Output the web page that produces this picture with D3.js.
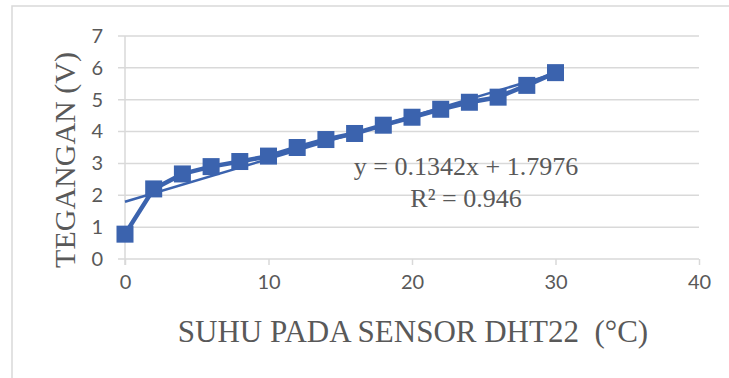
<!DOCTYPE html>
<html>
<head>
<meta charset="utf-8">
<script src="https://cdn.jsdelivr.net/npm/d3@7"></script>
<style>
  html, body { margin: 0; padding: 0; background: #fff; }
  svg { display: block; }
</style>
</head>
<body>
<div id="linechart"></div>
<script>
// data
const suhu = [0, 2, 4, 6, 8, 10, 12, 14, 16, 18, 20, 22, 24, 26, 28, 30];
const tegangan = [0.78, 2.2, 2.67, 2.9, 3.06, 3.23, 3.5, 3.75, 3.94, 4.2, 4.45, 4.7, 4.92, 5.08, 5.45, 5.85];
const xTicks = [0, 10, 20, 30, 40];
const yTicks = [0, 1, 2, 3, 4, 5, 6, 7];
const slope = 0.1342;
const intercept = 1.7976;
const eqLabel = 'y = 0.1342x + 1.7976';
const r2Label = 'R² = 0.946';
const xTitle = 'SUHU PADA SENSOR DHT22  (°C)';
const yTitle = 'TEGANGAN (V)';

const W = 729, H = 378;
const margin = { top: 36, right: 30, bottom: 119, left: 125 };
const width = W - margin.left - margin.right;
const height = H - margin.top - margin.bottom;
const blue = '#3b63ae';
const grid = '#d9d9d9';
const txt = '#595959';

const data = suhu.map((d, i) => ({ x: d, y: tegangan[i] }));

const root = d3.select('#linechart')
  .append('svg')
  .attr('width', W)
  .attr('height', H);

// chart border (only top and left show in the crop)
root.append('path')
  .attr('d', `M12,${H} L12,6 L${W},6`)
  .attr('fill', 'none')
  .attr('stroke', grid)
  .attr('stroke-width', 1.5);

const svg = root.append('g')
  .attr('transform', `translate(${margin.left}, ${margin.top})`);

//scales
const x = d3.scaleLinear().domain([0, 40]).range([0, width]);
const y = d3.scaleLinear().domain([0, 7]).range([height, 0]);

//horizontal grid lines
svg.selectAll('.ygrid')
  .data(yTicks)
  .join('line')
  .attr('class', 'ygrid')
  .attr('x1', -7)
  .attr('x2', width)
  .attr('y1', d => y(d))
  .attr('y2', d => y(d))
  .attr('stroke', grid)
  .attr('stroke-width', 1.5);

//y-axis
svg.append('g')
  .call(d3.axisLeft(y).tickValues(yTicks).tickSize(0).tickPadding(22).tickFormat(d3.format('d')))
  .call(g => g.select('.domain').attr('stroke', grid).attr('stroke-width', 1.5)
    .attr('d', `M0,0V${height + 6}`))
  .selectAll('.tick text')
  .attr('fill', txt)
  .style('font-family', 'Lato, sans-serif')
  .style('font-size', '20px');

//x-axis
svg.append('g')
  .attr('transform', `translate(0, ${height})`)
  .call(d3.axisBottom(x).tickValues(xTicks).tickSize(6).tickPadding(10).tickFormat(d3.format('d')))
  .call(g => g.select('.domain').remove())
  .call(g => g.selectAll('.tick line').attr('stroke', grid).attr('stroke-width', 1.5))
  .selectAll('.tick text')
  .attr('fill', txt)
  .style('font-family', 'Lato, sans-serif')
  .style('font-size', '20px');

//trend line
const trendX = d3.extent(suhu);
svg.append('line')
  .attr('x1', x(trendX[0]))
  .attr('y1', y(slope * trendX[0] + intercept))
  .attr('x2', x(trendX[1]))
  .attr('y2', y(slope * trendX[1] + intercept))
  .attr('stroke', blue)
  .attr('stroke-width', 2.5);

//series line
const line = d3.line()
  .x(d => x(d.x))
  .y(d => y(d.y));

svg.append('path')
  .datum(data)
  .attr('fill', 'none')
  .attr('stroke', blue)
  .attr('stroke-width', 4.5)
  .attr('stroke-linejoin', 'round')
  .attr('d', line);

//square markers
const s = 17;
svg.append('g')
  .selectAll('rect')
  .data(data)
  .join('rect')
  .attr('x', d => x(d.x) - s / 2)
  .attr('y', d => y(d.y) - s / 2)
  .attr('width', s)
  .attr('height', s)
  .attr('fill', blue);

//trend line label
svg.append('text')
  .attr('x', 466 - margin.left)
  .attr('y', 175 - margin.top)
  .attr('text-anchor', 'middle')
  .attr('fill', txt)
  .style('font-family', '"Liberation Serif", serif')
  .style('font-size', '26px')
  .text(eqLabel);

svg.append('text')
  .attr('x', 466 - margin.left)
  .attr('y', 207 - margin.top)
  .attr('text-anchor', 'middle')
  .attr('fill', txt)
  .style('font-family', '"Liberation Serif", serif')
  .style('font-size', '26px')
  .text(r2Label);

//axis titles
root.append('text')
  .attr('x', 413)
  .attr('y', 342)
  .attr('text-anchor', 'middle')
  .attr('fill', txt)
  .style('font-family', '"Liberation Serif", serif')
  .style('font-size', '31px')
  .style('white-space', 'pre')
  .text(xTitle);

root.append('text')
  .attr('transform', 'translate(75, 160) rotate(-90)')
  .attr('text-anchor', 'middle')
  .attr('fill', txt)
  .style('font-family', '"Liberation Serif", serif')
  .style('font-size', '30px')
  .text(yTitle);
</script>
</body>
</html>
